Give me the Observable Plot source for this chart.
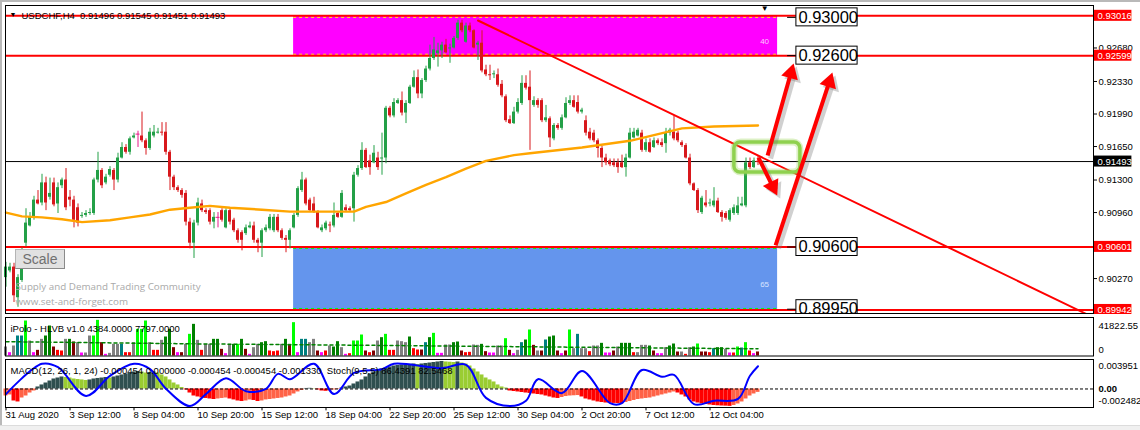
<!DOCTYPE html>
<html><head><meta charset="utf-8">
<script src="https://cdn.jsdelivr.net/npm/d3@7"></script>
<script src="https://cdn.jsdelivr.net/npm/@observablehq/plot@0.6"></script>
<style>
body{margin:0;background:#fff}
#wrap{position:relative;width:1140px;height:430px;overflow:hidden;background:#fff;font-family:"Liberation Sans",Arial,sans-serif}
#wrap svg{position:absolute;left:0}
.scalebtn{position:absolute;left:15px;top:249px;width:48px;height:18px;background:#e1e1e1;border:1px solid #b4b4b4;border-right-color:#8a8a8a;border-bottom-color:#8a8a8a;color:#707070;font-size:14px;line-height:18px;text-align:center;font-family:"Liberation Sans",Arial,sans-serif}
</style></head><body><div id="wrap"></div>
<script>
// ---------- DATA ----------
const opens = [0.9028,0.9035,0.9039,0.9007,0.9025,0.9064,0.9082,0.9091,0.9109,0.9106,
0.9127,0.9112,0.9127,0.9105,0.9124,0.9130,0.9112,0.9109,0.9101,0.9092,
0.9093,0.9095,0.9095,0.9130,0.9140,0.9127,0.9135,0.9140,0.9130,0.9153,
0.9164,0.9159,0.9174,0.9178,0.9176,0.9171,0.9163,0.9176,0.9179,0.9180,
0.9180,0.9159,0.9133,0.9122,0.9119,0.9116,0.9086,0.9064,0.9085,0.9105,
0.9098,0.9098,0.9086,0.9091,0.9098,0.9080,0.9098,0.9088,0.9077,0.9075,
0.9074,0.9080,0.9082,0.9067,0.9064,0.9077,0.9079,0.9077,0.9091,0.9077,
0.9069,0.9067,0.9080,0.9093,0.9119,0.9130,0.9109,0.9105,0.9096,0.9077,
0.9079,0.9083,0.9082,0.9095,0.9091,0.9101,0.9100,0.9100,0.9135,0.9142,
0.9161,0.9150,0.9148,0.9153,0.9152,0.9153,0.9205,0.9197,0.9210,0.9213,
0.9200,0.9210,0.9227,0.9237,0.9220,0.9234,0.9246,0.9257,0.9262,0.9265,
0.9271,0.9267,0.9268,0.9278,0.9294,0.9274,0.9291,0.9286,0.9271,0.9273,
0.9245,0.9240,0.9240,0.9240,0.9230,0.9217,0.9193,0.9189,0.9201,0.9210,
0.9231,0.9227,0.9208,0.9213,0.9213,0.9192,0.9194,0.9173,0.9187,0.9184,
0.9195,0.9210,0.9213,0.9211,0.9201,0.9192,0.9180,0.9179,0.9171,0.9163,
0.9153,0.9150,0.9148,0.9148,0.9148,0.9143,0.9153,0.9174,0.9176,0.9179,
0.9161,0.9169,0.9164,0.9171,0.9169,0.9168,0.9179,0.9180,0.9179,0.9169,
0.9166,0.9153,0.9126,0.9119,0.9096,0.9106,0.9105,0.9103,0.9108,0.9096,
0.9095,0.9088,0.9095,0.9095,0.9103,0.9103,0.9148,0.9143,0.91496];
const closes = [0.9039,0.9039,0.9009,0.9028,0.9056,0.9085,0.9091,0.9109,0.9105,0.9127,
0.9106,0.9116,0.9104,0.9122,0.9130,0.9101,0.9109,0.9088,0.9085,0.9093,
0.9095,0.9096,0.9130,0.9140,0.9124,0.9133,0.9141,0.9130,0.9153,0.9164,
0.9159,0.9173,0.9176,0.9178,0.9171,0.9163,0.9180,0.9180,0.9180,0.9179,
0.9159,0.9133,0.9122,0.9119,0.9114,0.9086,0.9064,0.9085,0.9106,0.9098,
0.9096,0.9086,0.9091,0.9091,0.9088,0.9098,0.9086,0.9077,0.9067,0.9067,
0.9080,0.9082,0.9067,0.9064,0.9077,0.9080,0.9091,0.9091,0.9077,0.9069,
0.9067,0.9077,0.9093,0.9121,0.9130,0.9105,0.9098,0.9096,0.9080,0.9080,
0.9085,0.9082,0.9093,0.9091,0.9116,0.9098,0.9098,0.9135,0.9142,0.9161,
0.9143,0.9143,0.9158,0.9143,0.9153,0.9205,0.9197,0.9211,0.9213,0.9200,
0.9210,0.9227,0.9237,0.9220,0.9234,0.9246,0.9257,0.9266,0.9265,0.9271,
0.9263,0.9268,0.9278,0.9294,0.9286,0.9291,0.9286,0.9268,0.9273,0.9244,
0.9240,0.9239,0.9241,0.9229,0.9218,0.9192,0.9189,0.9201,0.9211,0.9231,
0.9226,0.9213,0.9213,0.9208,0.9192,0.9195,0.9174,0.9187,0.9184,0.9195,
0.9210,0.9213,0.9206,0.9201,0.9203,0.9179,0.9173,0.9171,0.9163,0.9153,
0.9148,0.9146,0.9145,0.9143,0.9143,0.9153,0.9179,0.9180,0.9182,0.9161,
0.9169,0.9159,0.9171,0.9168,0.9166,0.9179,0.9182,0.9173,0.9171,0.9166,
0.9153,0.9126,0.9119,0.9098,0.9111,0.9103,0.9106,0.9108,0.9096,0.9091,
0.9090,0.9098,0.9101,0.9103,0.9105,0.9148,0.9143,0.9150,0.91493];
const highs = [0.9044,0.9043,0.9043,0.9031,0.9059,0.9100,0.9096,0.9113,0.9119,0.9136,
0.9133,0.9132,0.9132,0.9127,0.9132,0.9142,0.9119,0.9113,0.9105,0.9096,
0.9098,0.9100,0.9132,0.9159,0.9142,0.9136,0.9144,0.9142,0.9158,0.9169,
0.9167,0.9175,0.9179,0.9181,0.9201,0.9173,0.9184,0.9187,0.9184,0.9190,
0.9190,0.9161,0.9135,0.9124,0.9121,0.9119,0.9090,0.9088,0.9111,0.9109,
0.9100,0.9100,0.9096,0.9096,0.9100,0.9100,0.9100,0.9090,0.9079,0.9077,
0.9083,0.9086,0.9086,0.9069,0.9079,0.9083,0.9094,0.9094,0.9094,0.9079,
0.9072,0.9079,0.9095,0.9123,0.9138,0.9132,0.9111,0.9112,0.9098,0.9083,
0.9087,0.9086,0.9106,0.9097,0.9119,0.9104,0.9102,0.9138,0.9145,0.9169,
0.9163,0.9156,0.9166,0.9159,0.9179,0.9207,0.9207,0.9215,0.9215,0.9222,
0.9213,0.9229,0.9244,0.9245,0.9236,0.9249,0.9271,0.9279,0.9273,0.9274,
0.9277,0.9272,0.9280,0.9297,0.9297,0.9294,0.9294,0.9287,0.9275,0.9286,
0.9250,0.9250,0.9244,0.9246,0.9234,0.9219,0.9197,0.9206,0.9215,0.9239,
0.9239,0.9244,0.9217,0.9215,0.9215,0.9208,0.9196,0.9189,0.9189,0.9198,
0.9216,0.9218,0.9218,0.9218,0.9205,0.9197,0.9184,0.9182,0.9173,0.9165,
0.9157,0.9152,0.9152,0.9152,0.9156,0.9157,0.9184,0.9184,0.9184,0.9182,
0.9173,0.9173,0.9174,0.9173,0.9173,0.9184,0.9184,0.9197,0.9181,0.9171,
0.9168,0.9157,0.9127,0.9121,0.9113,0.9119,0.9110,0.9122,0.9111,0.9098,
0.9097,0.9100,0.9104,0.9112,0.9112,0.9153,0.9153,0.9153,0.91545];
const lows = [0.9018,0.9033,0.9002,0.8997,0.9023,0.9060,0.9081,0.9088,0.9104,0.9103,
0.9098,0.9109,0.9102,0.9095,0.9121,0.9098,0.9102,0.9080,0.9081,0.9090,
0.9091,0.9093,0.9093,0.9127,0.9121,0.9125,0.9133,0.9119,0.9127,0.9152,
0.9157,0.9156,0.9173,0.9164,0.9169,0.9156,0.9161,0.9174,0.9178,0.9176,
0.9156,0.9119,0.9119,0.9117,0.9111,0.9082,0.9058,0.9048,0.9082,0.9096,
0.9094,0.9083,0.9079,0.9080,0.9086,0.9079,0.9083,0.9075,0.9064,0.9056,
0.9072,0.9079,0.9064,0.9054,0.9049,0.9075,0.9077,0.9075,0.9075,0.9067,
0.9054,0.9058,0.9079,0.9091,0.9117,0.9103,0.9096,0.9095,0.9079,0.9075,
0.9077,0.9075,0.9080,0.9090,0.9090,0.9096,0.9096,0.9086,0.9133,0.9140,
0.9142,0.9135,0.9147,0.9140,0.9135,0.9147,0.9195,0.9195,0.9209,0.9197,
0.9189,0.9209,0.9226,0.9215,0.9215,0.9232,0.9244,0.9255,0.9248,0.9257,
0.9262,0.9252,0.9267,0.9276,0.9284,0.9273,0.9284,0.9267,0.9255,0.9242,
0.9238,0.9234,0.9236,0.9227,0.9216,0.9190,0.9188,0.9188,0.9199,0.9208,
0.9224,0.9161,0.9206,0.9205,0.9190,0.9190,0.9164,0.9171,0.9182,0.9182,
0.9194,0.9208,0.9205,0.9199,0.9199,0.9176,0.9171,0.9169,0.9153,0.9143,
0.9145,0.9144,0.9143,0.9137,0.9142,0.9133,0.9152,0.9173,0.9175,0.9159,
0.9159,0.9158,0.9163,0.9166,0.9164,0.9158,0.9176,0.9171,0.9169,0.9164,
0.9152,0.9124,0.9118,0.9095,0.9094,0.9101,0.9102,0.9101,0.9095,0.9086,
0.9088,0.9086,0.9093,0.9093,0.9102,0.9101,0.9141,0.9142,0.91451];

// moving average (bar index, value)
const maX = [0,4,9,14,19,26,31,36,41,46,51,56,64,71,87,90,95,100,105,110,115,120,127,131,144,156,169,177,188];
const maV = [0.9096,0.9092,0.9091,0.9089,0.9086,0.9088,0.9091,0.9094,0.9099,0.9101,0.9103,0.9101,0.9099,0.9097,0.9097,0.9102,0.9107,0.9116,0.9125,0.9133,0.9142,0.9150,0.9156,0.9158,0.9164,0.9171,0.9184,0.9186,0.9187];

// trend line anchors (bar index, price)
const trendX = [118, 270];
const trendV = [0.92967, 0.89902];

const redLevels = [0.93016, 0.92599, 0.90601, 0.89942];
const currentPrice = 0.91493;
const levelNotes = [0.93000, 0.92600, 0.90600, 0.89950];
const priceTicks = [0.92680, 0.92330, 0.91990, 0.91650, 0.91300, 0.90960, 0.90270];
const zones = [
  {name: "supply", start: 71.9, end: 192.9, low: 0.92599, high: 0.93016, tag: "40", tagAt: 0.92748},
  {name: "demand", start: 71.9, end: 192.9, low: 0.89942, high: 0.90601, tag: "65", tagAt: 0.90208}
];
const arrows = [
  {x1: 190.4, y1: 0.91556, x2: 196.9, y2: 0.92518},
  {x1: 192.4, y1: 0.90616, x2: 206.6, y2: 0.92424},
  {x1: 188.1, y1: 0.91535, x2: 192.8, y2: 0.91138}
];
const focusBox = {x1: 182.1, x2: 198.6, y1: 0.91379, y2: 0.91692};

// volume (HLVB)
const vols = [9770,3620,10860,21720,21720,38010,16290,3620,6150,18100,
21720,32580,9770,6150,5430,18100,18100,15200,14480,3260,
3260,21720,21720,38730,14480,1810,2900,12670,12670,12670,
3620,3620,14480,28960,28960,38010,14480,6150,6150,17010,
20630,28960,9050,3620,3620,12670,23530,34390,17010,6150,
12670,12670,18100,18100,7240,2530,12670,12670,12670,18100,
7240,1810,9050,12670,14480,15570,5430,4710,5430,12670,
18100,12670,36200,3620,18100,18100,14480,18100,5430,3620,
5430,10860,9770,15570,9050,1810,2530,16290,16290,22810,
5430,3620,5430,16290,19910,23530,6150,6150,16290,15570,
14480,20630,7960,6520,6520,14480,19910,24620,2900,2900,
11950,11950,14480,15200,5430,3620,3980,11950,11580,12670,
4710,3260,3260,10860,10860,18820,6150,2530,6150,14480,
17380,28240,11580,5430,5430,17380,20630,21720,5430,2530,
5430,28240,7960,23530,7960,7960,4710,10860,10860,13760,
3260,3260,5430,9770,13760,13760,13760,3620,3620,11580,
11580,10860,5430,2530,2530,9050,10860,13030,4340,4340,
1810,9050,9770,13030,4340,4340,3620,7960,9050,9050,
7240,3260,3260,9770,8690,14480,5430,2530,4384];
const volClass = ("NMNTTLNMDN"+"GGDRRNGDNM"+"NNLLDMNNNT"+"RRNLLLNRRN"+"GGDMDNLGNR"+
"NNGGDMNGLG"+"DMNNGGRRRN"+"GDLMTTNNDM"+"RNGGNMRLLL"+"DRDNGLRRNN"+"NGRRDTGLMM"+
"NNGGDRRNNG"+"DMMNNLDMNT"+"GLDNDTGGDM"+"DLNTNNRNNG"+"MMDNGGGRNN"+"NGDMMNGGDN"+
"RNGLDDRTGG"+"NMRLTLRMD").split("");
const volAvgX = [0, 47, 94, 141, 188];
const volAvgV = [15570, 13200, 11500, 9600, 7797];
const volMax = 41822.55;

// MACD histogram
const macd = [-0.00094,-0.0008,-0.00161,-0.00174,-0.00121,-0.00094,-0.00054,-0.00027,0.00027,0.00054,
0.0008,0.00107,0.00134,0.00147,0.00161,0.00154,0.00147,0.00134,0.00127,0.00121,
0.00114,0.00121,0.00134,0.00141,0.00147,0.00154,0.00147,0.00161,0.00174,0.00188,
0.00201,0.00214,0.00228,0.00235,0.00228,0.00214,0.00221,0.00228,0.00214,0.00188,
0.00161,0.00121,0.0008,0.00054,0.0002,-0.00013,-0.00054,-0.00094,-0.00107,-0.00121,
-0.00127,-0.00134,-0.00141,-0.00134,-0.00127,-0.00121,-0.00134,-0.00147,-0.00161,-0.00168,
-0.00161,-0.00147,-0.00154,-0.00168,-0.00161,-0.00147,-0.00141,-0.00134,-0.00127,-0.00121,
-0.00107,-0.00094,-0.00067,-0.0004,-0.0002,0.00007,0.00009,0.00004,-0.00013,-0.00027,
-0.00031,-0.00027,-0.00013,-0.00007,0.00013,0.00027,0.0004,0.00067,0.00094,0.00121,
0.00161,0.00201,0.00228,0.00255,0.00268,0.00281,0.00295,0.00308,0.00315,0.00322,
0.00326,0.0033,0.00335,0.00328,0.00335,0.00342,0.00348,0.00355,0.00362,0.00369,
0.00362,0.00359,0.00355,0.00362,0.00348,0.00335,0.00308,0.00268,0.00228,0.00188,
0.00147,0.00121,0.00094,0.00054,0.00027,0.00013,-0.00027,-0.00034,-0.0004,-0.00047,
-0.00054,-0.0006,-0.00067,-0.00074,-0.0008,-0.00094,-0.00107,-0.00121,-0.00127,-0.00114,
-0.00101,-0.00094,-0.00091,-0.00088,-0.00107,-0.00134,-0.00147,-0.00161,-0.00174,-0.00181,
-0.00188,-0.0019,-0.00193,-0.00196,-0.00198,-0.00181,-0.00168,-0.00154,-0.00141,-0.00134,
-0.00127,-0.00121,-0.00107,-0.00094,-0.0008,-0.00067,-0.00054,-0.0004,-0.00054,-0.0008,
-0.00107,-0.00147,-0.00174,-0.00188,-0.00201,-0.00208,-0.00214,-0.00221,-0.00225,-0.00228,
-0.0023,-0.00233,-0.00221,-0.00201,-0.00174,-0.00134,-0.00094,-0.00067,-0.000454];
const macdMax = 0.003951, macdMin = -0.002482;

// Stochastic main line (bar index, value 0..100)
const stochX = [0,9,13,20,26,32,36,40,46,50,55,60,65,68,71,77,82,87,94,97,109,115,120,126,130,133,139,144,151,154,159,164,167,172,177,183,186,188];
const stochV = [28,91,84,24,66,91,80,39,3,28,61,34,39,70,59,91,28,72,80,91,82,89,20,3,14,59,30,76,9,9,78,64,68,7,14,18,66,86];

const dateTicks = [0,16,32,48,64,80,96,112,128,144,160,176];
const dateLabels = ["31 Aug 2020","3 Sep 12:00","8 Sep 04:00","10 Sep 20:00","15 Sep 12:00","18 Sep 04:00","22 Sep 20:00","25 Sep 12:00","30 Sep 04:00","2 Oct 20:00","7 Oct 12:00","12 Oct 04:00"];

const titleText = "USDCHF,H4  0.91496 0.91545 0.91451 0.91493";
const volTitle = "iPolo - HLVB v1.0 4384.0000 7797.0000";
const macdTitle = "MACD(12, 26, 1, 24) -0.000454 0.000000 -0.000454 -0.000454 -0.001330  Stoch(9,5,5) 86.4391 82.5468";

// ---------- LAYOUT ----------
const W = 1140, ML = 5, MR = 47;
const xDomain = [-0.125, 271.875];
const xMax = xDomain[1];
const yMain = [0.89905, 0.93124];
const mainH = 315, mainMT = 5, mainMB = 2;
const kx = (W - ML - MR) / (xDomain[1] - xDomain[0]);
const ky = (mainH - mainMT - mainMB) / (yMain[1] - yMain[0]);
const FONT = "'Liberation Sans', Arial, sans-serif";
const n = Math.min(opens.length, closes.length, highs.length, lows.length);
const candles = d3.range(n).map(i => ({i, o: opens[i], h: highs[i], l: lows[i], c: closes[i]}));
const cCol = d => d.c > d.o ? "#23a047" : d.c < d.o ? "#d8181c" : "#e8198b";
const maPts = maX.map((x, k) => ({x, v: maV[k]}));
const trendPts = trendX.map((x, k) => ({x, v: trendV[k]}));

// arrow geometry in screen space -> data space
const headR = 6.4;
const headOff = 2 * Math.sqrt(headR * headR * Math.PI / (3 * Math.sqrt(3)));
const arrowData = arrows.map(a => {
  const dxp = (a.x2 - a.x1) * kx, dyp = -(a.y2 - a.y1) * ky;
  const len = Math.hypot(dxp, dyp), ux = dxp / len, uy = dyp / len;
  const back = px => ({x: a.x2 - ux * px / kx, y: a.y2 + uy * px / ky});
  const hc = back(headOff);
  return {x1: a.x1, y1: a.y1, sx: hc.x, sy: hc.y, hx: hc.x, hy: hc.y, rot: Math.atan2(ux, -uy) * 180 / Math.PI};
});

const txtStyle = {fontFamily: FONT, fontSize: "9.5px", background: "transparent", overflow: "hidden"};
const wrap = document.getElementById("wrap");

// ---------- MAIN PANE ----------
const main = Plot.plot({
  width: W, height: mainH, marginLeft: ML, marginRight: MR, marginTop: mainMT, marginBottom: mainMB,
  style: txtStyle,
  x: {domain: xDomain, axis: null},
  y: {domain: yMain, axis: null},
  marks: [
    Plot.rect(zones, {x1: "start", x2: "end", y1: "low", y2: "high", fill: d => d.name === "supply" ? "#ff00ff" : "#6495ed"}),
    Plot.ruleY(zones, {y: "high", x1: "start", x2: "end", dy: 1.5, stroke: d => d.name === "supply" ? "#ffff00" : "#00ff00", strokeDasharray: "3,3"}),
    Plot.ruleY(zones, {y: "low", x1: "start", x2: "end", dy: -1.5, stroke: d => d.name === "supply" ? "#ffff00" : "#00ff00", strokeDasharray: "3,3"}),
    Plot.text(zones, {x: "end", y: "tagAt", dx: -13, text: "tag", fontSize: 8, fill: d => d.name === "supply" ? "#ffc8ff" : "#d8e4ff"}),
    Plot.ruleY(redLevels, {stroke: "#ff0000", strokeWidth: 2}),
    Plot.ruleY([currentPrice], {stroke: "#000", strokeWidth: 1}),
    Plot.ruleX(candles, {x: "i", y1: "l", y2: "h", stroke: cCol, strokeWidth: 1}),
    Plot.rect(candles, {x1: d => d.i - 0.375, x2: d => d.i + 0.375, y1: "o", y2: "c", fill: cCol}),
    Plot.ruleY(candles.filter(d => Math.abs(d.o - d.c) < 0.00006), {y: "c", x1: d => d.i - 0.5, x2: d => d.i + 0.5, stroke: cCol}),
    Plot.line(maPts, {x: "x", y: "v", stroke: "#ffa500", strokeWidth: 2.4}),
    Plot.line(trendPts, {x: "x", y: "v", stroke: "#ff0000", strokeWidth: 2, clip: true}),
    Plot.rect([focusBox], {x1: "x1", x2: "x2", y1: "y1", y2: "y2", fill: "none", stroke: "#9ad35a", strokeWidth: 7, strokeOpacity: 0.35, rx: 7}),
    Plot.rect([focusBox], {x1: "x1", x2: "x2", y1: "y1", y2: "y2", fill: "none", stroke: "#8fd14f", strokeWidth: 3.5, rx: 6}),
    Plot.link(arrowData, {x1: "x1", y1: "y1", x2: "sx", y2: "sy", stroke: "#777", strokeOpacity: 0.35, strokeWidth: 5, dx: 3, dy: 3}),
    Plot.dot(arrowData, {x: "hx", y: "hy", symbol: "triangle", r: headR, rotate: "rot", fill: "#777", fillOpacity: 0.35, dx: 3, dy: 3}),
    Plot.link(arrowData, {x1: "x1", y1: "y1", x2: "sx", y2: "sy", stroke: "#ff0000", strokeWidth: 4}),
    Plot.dot(arrowData, {x: "hx", y: "hy", symbol: "triangle", r: headR, rotate: "rot", fill: "#ff0000"}),
    Plot.ruleY(levelNotes, {x1: 195.4, x2: 197.6, stroke: "#000"}),
    Plot.rect(levelNotes, {x1: 197.6, x2: 212.9, y1: d => d - 9 / ky, y2: d => d + 9 / ky, fill: "#fff", stroke: "#000"}),
    Plot.text(levelNotes, {x: 197.6, y: d => d, dx: 2, textAnchor: "start", text: d => d.toFixed(5), fontSize: 16.5, fill: "#000", fontFamily: FONT}),
    Plot.text(["Supply and Demand Trading Community"], {frameAnchor: "top-left", dx: 10, dy: 278, textAnchor: "start", fill: "#a9a9a9", fontSize: 9.8, fontFamily: "'Open Sans', sans-serif"}),
    Plot.text(["www.set-and-forget.com"], {frameAnchor: "top-left", dx: 10, dy: 292.5, textAnchor: "start", fill: "#a9a9a9", fontSize: 9.8, fontFamily: "'Open Sans', sans-serif"}),
    Plot.text(["▼"], {frameAnchor: "top-left", dx: 4, dy: 7, fontSize: 7, fill: "#000"}),
    Plot.text([titleText], {frameAnchor: "top-left", dx: 16, dy: 7, textAnchor: "start", fill: "#000", fontSize: 9.5}),
    Plot.text(["▼"], {x: 189.7, frameAnchor: "top", dy: 0, fontSize: 8, fill: "#000"}),
    Plot.frame({stroke: "#000"}),
    Plot.ruleY(priceTicks, {x1: xMax, x2: xMax + 1, stroke: "#000"}),
    Plot.text(priceTicks, {y: d => d, frameAnchor: "right", dx: 5, textAnchor: "start", text: d => d.toFixed(5), fill: "#000"}),
    Plot.rect(redLevels, {x1: xMax + 0.25, x2: xMax + 9.6, y1: d => d - 5.5 / ky, y2: d => d + 5.5 / ky, fill: "#ff0000"}),
    Plot.text(redLevels, {y: d => d, frameAnchor: "right", dx: 4, textAnchor: "start", text: d => d.toFixed(5), fill: "#fff"}),
    Plot.rect([currentPrice], {x1: xMax + 0.25, x2: xMax + 9.6, y1: d => d - 5.5 / ky, y2: d => d + 5.5 / ky, fill: "#000"}),
    Plot.text([currentPrice], {y: d => d, frameAnchor: "right", dx: 4, textAnchor: "start", text: d => d.toFixed(5), fill: "#fff"})
  ]
});
main.style.top = "0px";
wrap.appendChild(main);

// ---------- VOLUME PANE ----------
const volColors = {N: "#808080", M: "#ff00ff", T: "#008080", L: "#00ff00", D: "#800000", G: "#008000", R: "#ff0000"};
const volData = d3.range(Math.min(vols.length, volClass.length)).map(i => ({i, v: vols[i], k: volClass[i]}));
const volAvg = volAvgX.map((x, k) => ({x, v: volAvgV[k]}));
const vol = Plot.plot({
  width: W, height: 44, marginLeft: ML, marginRight: MR, marginTop: 3, marginBottom: 2.5,
  style: {...txtStyle, background: "#fff"},
  x: {domain: xDomain, axis: null},
  y: {domain: [0, volMax], axis: null},
  marks: [
    Plot.rect(volData, {x1: d => d.i - 0.375, x2: d => d.i + 0.375, y1: 0, y2: "v", fill: d => volColors[d.k]}),
    Plot.line(volAvg, {x: "x", y: "v", stroke: "#008000", strokeDasharray: "3,3"}),
    Plot.text([volTitle], {frameAnchor: "top-left", dx: 5, dy: 8, textAnchor: "start", fill: "#000"}),
    Plot.frame({stroke: "#000"}),
    Plot.text([volMax], {y: d => d, frameAnchor: "right", dx: 5, dy: 8, textAnchor: "start", text: d => d.toFixed(2), fill: "#000"}),
    Plot.text([0], {y: d => d, frameAnchor: "right", dx: 5, dy: -6.5, textAnchor: "start", text: d => String(d), fill: "#000"})
  ]
});
vol.style.top = "314px";
wrap.appendChild(vol);

// ---------- MACD + STOCH PANE ----------
const mdata = macd.map((v, i) => ({i, v}));
let prevUp = true;
mdata.forEach((d, i) => {
  if (i > 0 && d.v !== macd[i - 1]) prevUp = d.v > macd[i - 1];
  d.up = prevUp;
});
const histColor = d => d.v >= 0 ? (d.up ? "#2f4f4f" : "#9acd32") : (d.up ? "#ff6347" : "#ff0000");
const stochY = v => macdMin + v / 100 * (macdMax - macdMin);
const stochPts = stochX.map((x, k) => ({x, v: stochY(stochV[k])}));
const ticksData = dateTicks.map((i, k) => ({i, label: dateLabels[k]}));
const md = Plot.plot({
  width: W, height: 72, marginLeft: ML, marginRight: MR, marginTop: 1, marginBottom: 23,
  style: {...txtStyle, background: "#fff"},
  x: {domain: xDomain, axis: null},
  y: {domain: [macdMin, macdMax], axis: null},
  marks: [
    Plot.rect(mdata, {x1: d => d.i - 0.5, x2: d => d.i + 0.5, y1: 0, y2: "v", fill: histColor}),
    Plot.ruleY([0], {stroke: "#000", strokeDasharray: "3,2"}),
    Plot.line(stochPts, {x: "x", y: "v", stroke: "#0000ff", strokeWidth: 2, curve: "catmull-rom"}),
    Plot.text([macdTitle], {frameAnchor: "top-left", dx: 5, dy: 8, textAnchor: "start", fill: "#000"}),
    Plot.frame({stroke: "#000"}),
    Plot.text([macdMax], {y: d => d, frameAnchor: "right", dx: 5, dy: 6.5, textAnchor: "start", text: d => d.toFixed(6), fill: "#000"}),
    Plot.text([0], {y: d => d, frameAnchor: "right", dx: 5, textAnchor: "start", text: () => "0.00", fill: "#000", fontWeight: "bold"}),
    Plot.text([macdMin], {y: d => d, frameAnchor: "right", dx: 5, dy: -7, textAnchor: "start", text: d => d.toFixed(6), fill: "#000"}),
    Plot.ruleX(ticksData, {x: "i", y1: macdMin, y2: macdMin - 0.00045, stroke: "#000"}),
    Plot.text(ticksData, {x: "i", frameAnchor: "bottom", dy: 10, dx: -0.5, textAnchor: "start", text: "label", fill: "#000"})
  ]
});
md.style.top = "358px";
wrap.appendChild(md);

// window chrome + scale button
const addDiv = (css, html) => { const d = document.createElement("div"); d.style.cssText = "position:absolute;" + css; if (html) d.textContent = html; wrap.appendChild(d); return d; };
addDiv("left:0;top:0;width:1140px;height:2px;background:#b9b9b9");
addDiv("left:0;top:0;width:2px;height:430px;background:#b9b9b9");
addDiv("left:0;top:425px;width:1140px;height:5px;background:#f0f0f0;border-top:1px solid #dcdcdc");
const btn = addDiv("", "Scale"); btn.className = "scalebtn";
</script></body></html>
